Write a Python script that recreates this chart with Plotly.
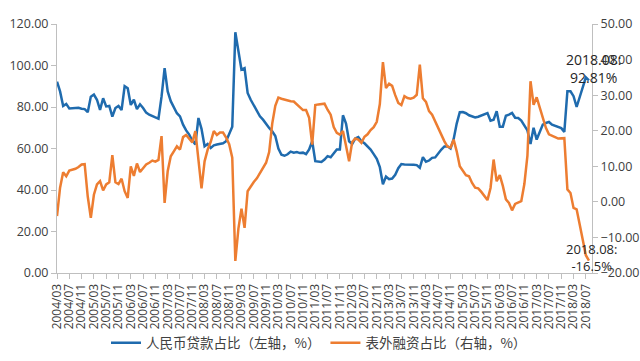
import plotly.graph_objects as go
import pandas as pd

# Monthly categories 2004/03 .. 2018/08
months = [p.strftime("%Y/%m") for p in pd.period_range("2004-03", "2018-08", freq="M")]
tick_labels = months[::4]

# 人民币贷款占比（左轴，%）
rmb_loan_share = [
    92.2, 87.5, 80.5, 81.5, 79.3, 79.4, 79.4, 79.6, 79.2, 79.0,
    77.5, 85.0, 86.0, 83.5, 78.6, 84.2, 80.3, 80.5, 75.4, 79.5,
    80.5, 78.5, 90.0, 89.0, 81.0, 83.5, 79.0, 81.3, 79.5, 77.3,
    76.3, 75.8, 75.0, 74.4, 85.0, 98.7, 87.5, 82.8, 80.0, 77.0,
    75.5, 71.5, 68.7, 66.7, 63.8, 62.0, 74.7, 69.5, 61.1, 62.2,
    60.3, 61.5, 61.9, 62.2, 62.5, 63.5, 67.5, 70.5, 116.0, 107.0,
    98.0, 98.7, 86.8, 83.5, 80.8, 78.2, 75.5, 73.9, 71.8, 69.9,
    68.3, 66.0, 60.0, 57.0, 56.5, 57.2, 58.5, 58.0, 58.3, 57.8,
    58.0, 57.3, 59.5, 63.5, 53.9, 53.6, 53.5, 54.7, 56.3, 55.8,
    57.9, 59.5, 59.5, 76.0, 72.0, 63.5, 62.2, 64.8, 65.5, 63.5,
    62.5, 61.0, 59.5, 57.3, 55.0, 51.0, 42.8, 46.5, 45.2, 45.5,
    47.3, 50.5, 52.5, 52.3, 52.3, 52.5, 52.2, 52.0, 50.7, 55.8,
    53.6, 54.2, 55.5, 55.7, 57.9, 59.5, 61.0, 61.1, 60.0, 64.5,
    72.0, 77.5, 77.6, 77.0, 76.0, 75.5, 75.0, 75.3, 75.8, 76.3,
    77.1, 73.4, 73.9, 78.0, 70.5, 70.5, 75.8, 76.3, 77.1, 74.8,
    74.7, 73.5, 71.0, 68.7, 62.2, 70.0, 64.3, 67.5, 71.5, 72.3,
    72.8, 71.5, 70.8, 70.3, 69.8, 68.0, 87.6, 87.6, 85.2, 80.0,
    85.2, 90.0, 94.3, 92.81,
]

# 表外融资占比（右轴，%）
offbs_share = [
    -4.0, 4.0, 8.3, 7.2, 8.8, 9.0, 9.3, 9.8, 10.5, 10.6,
    1.5, -4.5, 2.0, 4.9, 5.8, 3.2, 4.9, 5.5, 13.1, 5.5,
    5.0, 6.5, 3.0, 1.1, 10.0, 7.3, 10.8, 8.4, 9.4, 10.5,
    11.0, 11.6, 11.3, 11.8, 18.5, -0.3, 8.6, 12.8, 14.2, 15.6,
    14.7, 18.2, 18.8, 17.9, 16.7, 19.9, 11.0, 3.8, 11.4, 14.7,
    16.9, 19.9, 18.8, 19.5, 19.5, 18.1, 16.2, 12.4, -16.6, -7.5,
    -1.9, -7.3, 3.0, 4.5, 5.6, 6.6, 8.2, 9.7, 11.0, 14.0,
    22.0, 27.0, 29.3, 29.0, 28.7, 28.5, 28.3, 28.2, 27.3, 26.4,
    25.8, 25.8, 23.6, 16.1, 27.2, 27.4, 27.6, 27.6, 25.9, 24.5,
    21.0, 19.4, 18.9, 19.9, 15.8, 11.4, 16.8, 17.8, 17.5, 16.6,
    18.3, 19.0, 20.2, 21.0, 22.5, 27.5, 39.3, 32.0, 33.2, 32.6,
    30.0, 27.8, 27.2, 29.7, 29.2, 29.0, 29.3, 30.1, 38.6, 29.1,
    28.1, 25.5, 24.5, 22.5, 20.5, 18.5, 17.0, 15.5, 15.3, 17.5,
    14.2, 10.0, 8.6, 7.5, 7.2, 5.3, 4.0, 3.8, 2.8, 1.5,
    0.5, 3.9, 11.9, 5.8, 7.5, 4.5, 0.7, -0.3, -2.4, -0.6,
    -0.3, 0.2, 5.0, 13.0, 33.9, 27.3, 29.4, 26.6, 23.6, 20.8,
    19.0, 18.5, 18.2, 17.8, 17.8, 17.9, 3.5, 2.5, -1.7, -2.1,
    -6.4, -10.6, -15.0, -16.5,
]

blue = "#1F6BAE"
orange = "#ED7D31"
axis_gray = "#BFBFBF"
tick_color = "#404040"
base_font = "Open Sans, Liberation Sans, sans-serif"
tick_font = dict(family=base_font, size=12.5, color=tick_color)

fig = go.Figure()
fig.add_trace(go.Scatter(
    x=months, y=rmb_loan_share, name="人民币贷款占比（左轴，%）",
    mode="lines", line=dict(color=blue, width=2.5), yaxis="y",
))
fig.add_trace(go.Scatter(
    x=months, y=offbs_share, name="表外融资占比（右轴，%）",
    mode="lines", line=dict(color=orange, width=2.5), yaxis="y2",
))

fig.update_layout(
    width=640, height=361,
    margin=dict(l=57, r=48, t=24, b=88, autoexpand=False),
    paper_bgcolor="white", plot_bgcolor="white",
    font=dict(family=base_font, color=tick_color),
    xaxis=dict(
        type="category", range=[0, 174], categoryorder="array", categoryarray=months,
        tickmode="array", tickvals=tick_labels, ticktext=tick_labels,
        tickangle=-90, tickfont=dict(family=base_font, size=12, color=tick_color),
        showline=True, linecolor=axis_gray, linewidth=1,
        ticks="outside", ticklen=5, tickcolor=axis_gray,
        showgrid=False, zeroline=False, automargin=False,
    ),
    yaxis=dict(
        range=[0, 120], dtick=20, tickformat=".2f", tickfont=tick_font,
        showline=True, linecolor=axis_gray, linewidth=1,
        ticks="outside", ticklen=5, tickcolor=axis_gray,
        showgrid=False, zeroline=False, automargin=False,
    ),
    yaxis2=dict(
        range=[-20, 50], dtick=10, tickformat=".2f", tickfont=tick_font,
        overlaying="y", side="right",
        showline=True, linecolor=axis_gray, linewidth=1,
        ticks="outside", ticklen=5, tickcolor=axis_gray,
        showgrid=False, zeroline=False, automargin=False,
    ),
    legend=dict(
        orientation="h", xref="container", yref="container",
        x=106 / 640, y=1 - 343 / 361, xanchor="left", yanchor="middle",
        font=dict(family="Noto Sans CJK SC", size=13.5, color="#404040"),
        itemwidth=30, bgcolor="rgba(0,0,0,0)",
    ),
    showlegend=True,
)

fig.add_annotation(
    x=months[-1], y=rmb_loan_share[-1], xref="x", yref="y",
    text="2018.08:<br>92.81%", showarrow=False,
    xanchor="center", yanchor="middle", xshift=5, yshift=12,
    font=dict(family=base_font, size=14, color="#262626"),
)
fig.add_annotation(
    x=months[-1], y=offbs_share[-1], xref="x", yref="y2",
    text="2018.08:<br>-16.5%", showarrow=False,
    xanchor="center", yanchor="middle", xshift=3, yshift=3,
    font=dict(family=base_font, size=13, color="#262626"),
)

fig.write_html(
    "out.html",
    config={"displayModeBar": False},
    post_script="document.body.style.margin='0';document.body.style.padding='0';",
)
